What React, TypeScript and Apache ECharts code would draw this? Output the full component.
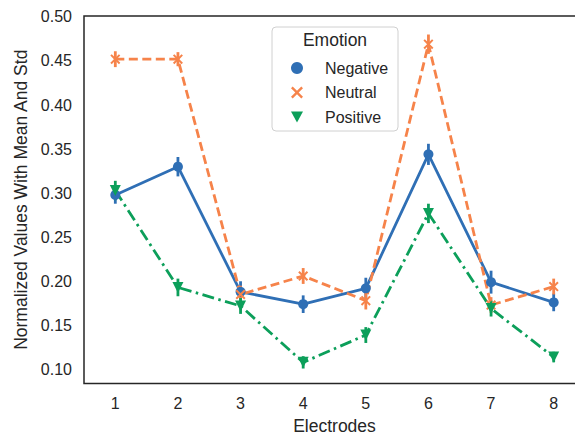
import React, { useEffect, useRef } from "react";
import * as echarts from "echarts";

const electrodes = ["1", "2", "3", "4", "5", "6", "7", "8"];
const negativeMean = [0.298, 0.330, 0.188, 0.174, 0.192, 0.344, 0.199, 0.176];
const negativeStd = [0.010, 0.011, 0.012, 0.010, 0.012, 0.012, 0.013, 0.010];
const neutralMean = [0.452, 0.452, 0.185, 0.206, 0.178, 0.469, 0.173, 0.194];
const neutralStd = [0.009, 0.008, 0.010, 0.009, 0.010, 0.011, 0.009, 0.009];
const positiveMean = [0.303, 0.193, 0.172, 0.108, 0.139, 0.277, 0.169, 0.114];
const positiveStd = [0.011, 0.010, 0.009, 0.007, 0.009, 0.011, 0.009, 0.006];
const yTickLabels = ["0.10", "0.15", "0.20", "0.25", "0.30", "0.35", "0.40", "0.45", "0.50"];

const BLUE = "#2f6fb5";
const ORANGE = "#f6834a";
const GREEN = "#0c9f5a";
const TEXT = "#262626";
const FONT = "Liberation Sans, Arial, sans-serif";

const X_PATH = "path://M1.4,0 L5,3.6 L8.6,0 L10,1.4 L6.4,5 L10,8.6 L8.6,10 L5,6.4 L1.4,10 L0,8.6 L3.6,5 L0,1.4 Z";
const TRI_DOWN = "path://M0,0 L10,0 L5,9 Z";

function errSeries(name: string, mean: number[], std: number[], color: string) {
  return {
    type: "custom",
    name,
    z: 3,
    data: mean.map((m, i) => [i, m - std[i], m + std[i]]),
    renderItem: (params: any, api: any) => {
      const lo = api.coord([api.value(0), api.value(1)]);
      const hi = api.coord([api.value(0), api.value(2)]);
      return {
        type: "line",
        shape: { x1: lo[0], y1: lo[1], x2: hi[0], y2: hi[1] },
        style: { stroke: color, lineWidth: 2.8 },
      };
    },
  };
}

export default function App() {
  const ref = useRef<HTMLDivElement>(null);
  useEffect(() => {
    if (!ref.current) return;
    const chart = echarts.init(ref.current, null, { renderer: "svg" });
    chart.setOption({
      animation: false,
      backgroundColor: "#ffffff",
      textStyle: { fontFamily: FONT, color: TEXT },
      grid: {
        left: 84,
        top: 16,
        width: 501,
        height: 367.5,
        containLabel: false,
        outerBoundsMode: "none",
        show: true,
        borderColor: TEXT,
        borderWidth: 1.5,
        backgroundColor: "transparent",
      },
      xAxis: {
        type: "category",
        data: electrodes,
        boundaryGap: true,
        axisLine: { show: false },
        axisTick: { show: false },
        splitLine: { show: false },
        axisLabel: { color: TEXT, fontSize: 16, fontFamily: FONT, margin: 12 },
        name: "Electrodes",
        nameLocation: "middle",
        nameGap: 33,
        nameTextStyle: { color: TEXT, fontSize: 17.5, fontFamily: FONT },
      },
      yAxis: {
        type: "value",
        min: 0.084,
        max: 0.501,
        interval: 0.001,
        axisLine: { show: false },
        axisTick: { show: false },
        splitLine: { show: false },
        axisLabel: {
          color: TEXT,
          fontSize: 16,
          fontFamily: FONT,
          margin: 12,
          formatter: (v: number) => {
            const k = v * 20;
            if (Math.abs(k - Math.round(k)) < 1e-6) {
              const lbl = yTickLabels.find((t) => Math.abs(parseFloat(t) - v) < 1e-6);
              return lbl || "";
            }
            return "";
          },
        },
        name: "Normalized Values With Mean And Std",
        nameLocation: "middle",
        nameGap: 46,
        nameTextStyle: { color: TEXT, fontSize: 17.5, fontFamily: FONT },
      },
      legend: {
        orient: "vertical",
        left: 291,
        top: 59,
        padding: 0,
        itemWidth: 12,
        itemHeight: 12,
        itemGap: 6.5,
        z: 12,
        textStyle: { color: TEXT, fontSize: 16, fontFamily: FONT, lineHeight: 18, padding: [0, 0, 0, 17] },
        data: [
          { name: "Negative", icon: "circle", itemStyle: { color: BLUE } },
          { name: "Neutral", icon: X_PATH, itemStyle: { color: ORANGE } },
          { name: "Positive", icon: TRI_DOWN, itemStyle: { color: GREEN } },
        ],
      },
      graphic: [
        {
          type: "rect",
          z: 10,
          shape: { x: 272, y: 27, width: 126, height: 104, r: 4 },
          style: { fill: "rgba(255,255,255,0.8)", stroke: "#d0d0d0", lineWidth: 1 },
        },
        {
          type: "text",
          z: 11,
          x: 335,
          y: 40,
          style: {
            text: "Emotion",
            fill: TEXT,
            font: `17.5px ${FONT}`,
            textAlign: "center",
            textVerticalAlign: "middle",
          },
        },
      ],
      series: [
        {
          name: "Negative",
          type: "line",
          data: negativeMean,
          symbol: "circle",
          symbolSize: 10,
          itemStyle: { color: BLUE },
          lineStyle: { color: BLUE, width: 2.8, type: "solid" },
          z: 4,
        },
        {
          name: "Neutral",
          type: "line",
          data: neutralMean,
          symbol: X_PATH,
          symbolSize: 10,
          itemStyle: { color: ORANGE },
          lineStyle: { color: ORANGE, width: 2.8, type: [9, 4.5] },
          z: 4,
        },
        {
          name: "Positive",
          type: "line",
          data: positiveMean,
          symbol: TRI_DOWN,
          symbolSize: 11,
          itemStyle: { color: GREEN },
          lineStyle: { color: GREEN, width: 2.8, type: [12, 4.5, 2.5, 4.5] },
          z: 4,
        },
        errSeries("Negative err", negativeMean, negativeStd, BLUE),
        errSeries("Neutral err", neutralMean, neutralStd, ORANGE),
        errSeries("Positive err", positiveMean, positiveStd, GREEN),
      ],
    });
    return () => chart.dispose();
  }, []);
  return <div ref={ref} style={{ width: 575, height: 434, position: "absolute", left: 0, top: 0 }} />;
}
